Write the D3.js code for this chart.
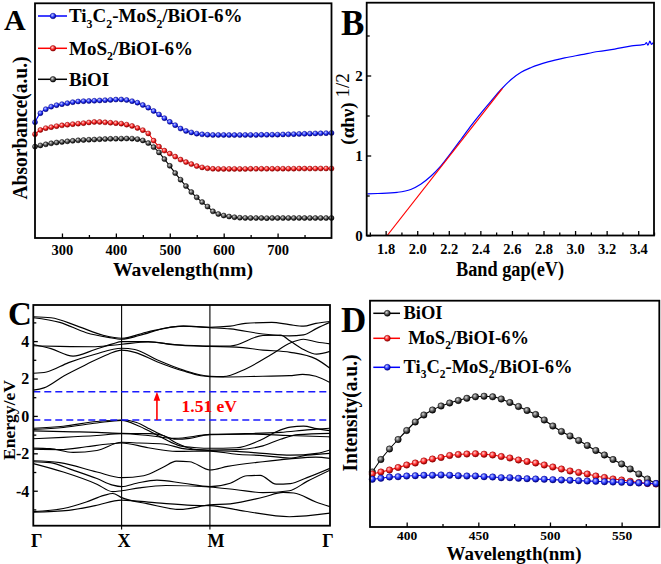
<!DOCTYPE html>
<html><head><meta charset="utf-8">
<script src="https://cdn.jsdelivr.net/npm/d3@7"></script>
<style>
body{margin:0;background:#fff;}
svg text{font-family:"Liberation Serif","Times New Roman",Times,serif;font-weight:bold;fill:#000;}
</style></head><body>
<svg id="fig" width="661" height="564" xmlns="http://www.w3.org/2000/svg"></svg>
<script>
// ================= DATA =================
// Panel A : UV-vis absorbance (a.u.), 250-800 nm every 10 nm
const wavelengthsA = d3.range(250, 801, 10);
const absTi3C2 = [1.16,1.25,1.29,1.315,1.33,1.34,1.35,1.36,1.367,1.37,1.372,1.374,1.377,1.38,1.383,1.386,1.387,1.382,1.37,1.355,1.332,1.305,1.272,1.237,1.20,1.163,1.13,1.096,1.072,1.057,1.045,1.038,1.034,1.032,
  1.032,1.032,1.031,1.031,1.031,1.032,1.032,1.032,1.033,1.033,
  1.034,1.035,1.037,1.038,1.04,1.042,1.043,1.045,1.047,1.048,1.05,1.052];
const absMoS2 = [1.04,1.082,1.10,1.11,1.12,1.128,1.134,1.14,1.145,1.15,1.157,1.162,1.162,1.158,1.154,1.15,1.145,1.135,1.122,1.102,1.08,1.047,0.975,0.915,0.875,0.845,0.815,0.785,0.76,0.74,0.72,0.707,0.698,0.693,
  0.692,0.692,0.692,0.692,0.692,0.692,0.693,0.693,0.693,0.693,
  0.693,0.694,0.694,0.694,0.694,0.695,0.695,0.695,0.695,0.696,0.696,0.696];
const absBiOI = [0.915,0.927,0.938,0.948,0.956,0.962,0.968,0.973,0.978,0.981,0.984,0.986,0.989,0.991,0.993,0.994,0.995,0.996,0.995,0.99,0.977,0.95,0.91,0.857,0.79,0.723,0.65,0.584,0.52,0.46,0.407,0.36,0.315,0.267,0.24,0.225,0.215,0.208,0.203,
  0.201,0.2,0.2,0.2,0.199,0.2,0.2,0.2,0.2,0.2,0.201,0.2,0.2,0.2,0.2,0.2,0.2];
const legendA = ["Ti3C2-MoS2/BiOI-6%", "MoS2/BiOI-6%", "BiOI"];
const ticksA = [300,400,500,600,700];
const minorTicksA = [350,450,550,650,750];

// Panel B : Tauc plot
const bandGapEV = [1.684,1.75,1.874,1.959,2.022,2.086,2.15,2.213,2.277,2.34,2.404,2.468,2.531,2.595,2.658,2.722,2.828,2.934,3.04,3.146,3.251,3.358,3.43,3.442,3.452,3.462,3.474,3.484,3.495];
const bandGapY  = [0.52,0.525,0.54,0.575,0.64,0.74,0.87,1.03,1.2,1.37,1.53,1.68,1.825,1.95,2.04,2.1,2.17,2.22,2.26,2.3,2.33,2.37,2.385,2.39,2.41,2.38,2.43,2.39,2.41];
const tangentEV = [1.81, 2.54];
const tangentY  = [0, 1.84];
const ticksBx = [1.8,2.0,2.2,2.4,2.6,2.8,3.0,3.2,3.4];
const minorTicksBx = [1.7,1.9,2.1,2.3,2.5,2.7,2.9,3.1,3.3,3.5];
const ticksBy = [0,1,2];
const minorTicksBy = [0.5,1.5,2.5];

// Panel C : band structure, [k, E(eV)] with Γ=0, X=1, M=2, Γ=3.36
const kPathPos = [0, 1, 2, 3.36];
const kPathLabels = ["Γ", "X", "M", "Γ"];
const conductionBands = [
 [[0,1.38],[0.12,1.5],[0.35,2.15],[0.6,2.75],[0.85,3.3],[1,3.52],[1.15,3.4],[1.4,2.9],[1.7,2.4],[1.9,2.15],[2,2.1],[2.15,2.08],[2.6,2.12],[2.9,2.15],[3.05,2.22],[3.2,2.12],[3.36,1.78]],
 [[0,2.28],[0.15,2.35],[0.4,2.85],[0.7,3.3],[1,3.62],[1.15,3.55],[1.4,3.0],[1.7,2.45],[2,2.12],[2.15,2.1],[2.4,2.5],[2.7,3.3],[2.91,3.9],[3.06,4.1],[3.21,3.95],[3.36,3.85]],
 [[0,3.75],[0.3,3.72],[0.7,3.7],[1,3.83],[1.3,3.95],[1.6,3.82],[2,3.74],[2.23,3.74],[2.6,4.3],[2.8,4.32],[2.91,4.0],[3.06,3.55],[3.21,3.3],[3.36,3.45]],
 [[0,3.82],[0.2,3.6],[0.45,3.2],[0.7,3.55],[0.9,3.85],[1,3.97],[1.3,3.97],[1.6,3.8],[2,3.72],[2.3,3.68],[2.6,3.52],[2.91,3.4],[3.2,3.05],[3.36,2.55]],
 [[0,5.25],[0.3,5.0],[0.6,4.45],[0.85,4.2],[1,4.1],[1.2,4.3],[1.5,4.7],[1.7,4.8],[2,4.72],[2.23,4.65],[2.6,4.38],[2.9,4.28],[3.06,4.33],[3.21,4.68],[3.36,5.0]],
 [[0,5.3],[0.2,5.25],[0.5,4.8],[0.8,4.3],[1,4.15],[1.3,4.5],[1.7,4.8],[2,4.74],[2.23,4.8],[2.4,4.95],[2.7,5.0],[2.9,4.88],[3.06,4.8],[3.2,4.95],[3.36,5.05]]
];
const valenceBands = [
 [[0,-0.66],[0.34,-0.55],[0.72,-0.3],[1,-0.22],[1.17,-0.35],[1.32,-0.7],[1.47,-1.05],[1.62,-1.25],[1.77,-1.2],[2,-0.99],[2.4,-0.95],[2.8,-0.88],[3.1,-0.75],[3.36,-0.66]],
 [[0,-0.72],[0.34,-0.62],[0.72,-0.38],[1,-0.24],[1.2,-0.55],[1.47,-1.2],[1.66,-1.6],[1.85,-1.7],[2,-1.73],[2.3,-1.7],[2.57,-1.3],[2.75,-0.85],[2.91,-0.6],[3.06,-0.55],[3.21,-0.68],[3.36,-0.79]],
 [[0,-0.8],[0.45,-0.85],[0.72,-0.88],[1,-0.93],[1.32,-0.95],[1.47,-1.05],[1.62,-1.45],[1.85,-1.8],[2,-1.82],[2.3,-1.8],[2.6,-1.6],[2.8,-1.25],[3.0,-1.0],[3.36,-0.93]],
 [[0,-1.22],[0.34,-1.15],[0.72,-1.05],[1,-0.95],[1.3,-1.05],[1.6,-1.2],[2,-1.0],[2.4,-0.97],[2.9,-1.05],[3.36,-1.12]],
 [[0,-1.72],[0.19,-1.75],[0.45,-1.95],[0.72,-1.85],[1,-1.41],[1.2,-1.45],[1.47,-1.5],[1.7,-1.75],[2,-1.85],[2.3,-1.9],[2.6,-2.0],[2.91,-2.1],[3.21,-2.0],[3.36,-1.82]],
 [[0,-1.78],[0.3,-1.8],[0.6,-1.65],[0.85,-1.5],[1,-1.45],[1.3,-1.7],[1.62,-1.9],[2,-1.88],[2.3,-2.05],[2.6,-2.12],[2.9,-2.25],[3.1,-2.1],[3.36,-2.0]],
 [[0,-2.4],[0.3,-2.5],[0.72,-3.0],[1,-3.3],[1.25,-3.2],[1.47,-2.75],[1.62,-2.42],[1.77,-2.45],[2,-2.89],[2.2,-2.7],[2.6,-2.45],[2.9,-2.3],[3.2,-2.2],[3.36,-2.27]],
 [[0,-2.45],[0.19,-2.5],[0.45,-2.9],[0.72,-3.35],[0.9,-3.7],[1,-3.78],[1.17,-3.6],[1.4,-3.43],[1.7,-3.6],[2,-3.78],[2.23,-3.6],[2.42,-3.2],[2.57,-3.18],[2.75,-3.65],[2.91,-3.62],[3.1,-3.3],[3.36,-2.8]],
 [[0,-2.55],[0.34,-3.0],[0.72,-3.65],[0.9,-4.05],[1,-4.0],[1.2,-3.85],[1.5,-3.72],[2,-3.8],[2.3,-3.95],[2.6,-4.1],[2.9,-4.0],[3.1,-3.5],[3.36,-2.9]],
 [[0,-5.12],[0.34,-4.95],[0.6,-4.6],[0.8,-4.25],[0.9,-4.15],[1,-4.37],[1.3,-4.7],[1.66,-5.0],[2,-4.76],[2.23,-4.7],[2.6,-4.35],[2.83,-4.09],[2.95,-4.12],[3.2,-4.6],[3.36,-4.85]],
 [[0,-5.15],[0.4,-5.05],[0.7,-4.8],[1,-4.5],[1.4,-4.65],[1.8,-4.78],[2,-4.8],[2.4,-5.1],[2.9,-5.39],[3.36,-5.2]]
];
const cbmE = 1.29, vbmE = -0.22, gapLabel = "1.51 eV", arrowK = 1.4;
const ticksCy = [-4,-2,0,2,4];
const minorTicksCy = [-5,-3,-1,1,3,5];

// Panel D : PL spectra, 376-574 nm every 6 nm
const wavelengthsD = d3.range(376, 575, 6);
const plBiOI  = [55,67.5,78,87.5,96.5,105,112,117,121,124,126.5,128.7,130.2,130.8,130.2,128,124.5,120.5,116.5,112.5,107,101,95.5,91,86.5,81.5,76.5,72,67.5,63,58,53,48,43.5];
const plMoS2  = [53,55,57,59.5,62,64,66,68,69.5,71.5,72.5,73,73.3,72.8,72,70.5,69,67,65.5,64,62,60,58,56,54.5,53,51,49.5,48,47,45.7,44.5,43.5,43];
const plTi3C2 = [47.7,48.7,50,50.3,51,51.3,51.7,51.7,52,51.7,51.3,51,51,50.3,50,49.3,49.3,48.7,48.3,48,47.7,47.3,47,46.7,46.3,46,45.7,45.3,45,44.7,44.3,44,43.7,43.5];
const legendD = ["BiOI", " MoS2/BiOI-6%", "Ti3C2-MoS2/BiOI-6%"];
const ticksD = [400,450,500,550];
const minorTicksD = [425,475,525];

const colors = {blue:"#0000ff", red:"#ff0000", black:"#000000"};

// ================= DRAWING =================
const svg = d3.select("#fig");
const defs = svg.append("defs");
function grad(id, light, mid, dark){
  const g = defs.append("radialGradient").attr("id",id).attr("cx","38%").attr("cy","35%").attr("r","65%");
  g.append("stop").attr("offset","0%").attr("stop-color",light);
  g.append("stop").attr("offset","55%").attr("stop-color",mid);
  g.append("stop").attr("offset","100%").attr("stop-color",dark);
}
grad("gblue","#c8ccff","#2a3cff","#00007a");
grad("gred","#ffd0d0","#ff2a2a","#8a0000");
grad("gblack","#d8d8d8","#555555","#000000");
const gradOf = {blue:"url(#gblue)", red:"url(#gred)", black:"url(#gblack)"};
const strokeOf = {blue:"#00008a", red:"#900000", black:"#000"};

function richText(g, x, y, str, fs){
  const t = g.append("text").attr("x",x).attr("y",y).attr("font-size",fs);
  const segs=[];
  for(let i=0;i<str.length;i++){
    const c=str[i];
    const sub=/\d/.test(c)&&i>0&&/[A-Za-z]/.test(str[i-1]);
    if(segs.length&&segs[segs.length-1].sub===sub) segs[segs.length-1].s+=c; else segs.push({s:c,sub});
  }
  let shifted=false;
  segs.forEach(sg=>{
    const ts=t.append("tspan").text(sg.s);
    if(sg.sub){ts.attr("font-size",fs*0.62).attr("dy",fs*0.3);shifted=true;}
    else if(shifted){ts.attr("dy",-fs*0.3);shifted=false;}
  });
  t.style("white-space","pre");
  return t;
}
function styleAxis(a, fs){
  a.select(".domain").remove();
  a.selectAll("line").attr("stroke","#000").attr("stroke-width",1.3);
  a.selectAll("text").attr("font-size",fs).attr("font-family",null).attr("fill","#000");
}
function bottomAxis(g, scale, y, major, minor, fmt, fs, off){
  g.append("g").attr("transform",`translate(0,${y})`)
   .call(d3.axisBottom(scale).tickValues(major).tickSize(-4.5).tickFormat(fmt))
   .call(a=>{styleAxis(a,fs); a.selectAll("text").attr("dy",null).attr("y",off);});
  if(minor) g.append("g").attr("transform",`translate(0,${y})`)
   .call(d3.axisBottom(scale).tickValues(minor).tickSize(-3).tickFormat(""))
   .call(a=>styleAxis(a,fs));
}
function leftAxis(g, scale, x, major, minor, fmt, fs, off){
  g.append("g").attr("transform",`translate(${x},0)`)
   .call(d3.axisLeft(scale).tickValues(major).tickSize(-4.5).tickFormat(fmt))
   .call(a=>{styleAxis(a,fs); a.selectAll("text").attr("x",-off).attr("dy","0.34em");});
  if(minor) g.append("g").attr("transform",`translate(${x},0)`)
   .call(d3.axisLeft(scale).tickValues(minor).tickSize(-3).tickFormat(""))
   .call(a=>styleAxis(a,fs));
}
function frame(g, x0, y0, x1, y1){
  g.append("rect").attr("x",x0).attr("y",y0).attr("width",x1-x0).attr("height",y1-y0)
   .attr("fill","none").attr("stroke","#000").attr("stroke-width",1.8);
}
function series(g, xs, ys, x, y, col, r){
  const pts = xs.map((d,i)=>[d,ys[i]]);
  g.append("path").datum(pts).attr("fill","none").attr("stroke",colors[col]).attr("stroke-width",1.1)
   .attr("d", d3.line().x(d=>x(d[0])).y(d=>y(d[1])).curve(d3.curveMonotoneX));
  g.selectAll(null).data(pts).enter().append("circle")
   .attr("cx",d=>x(d[0])).attr("cy",d=>y(d[1])).attr("r",r)
   .attr("fill",gradOf[col]).attr("stroke",strokeOf[col]).attr("stroke-width",0.5);
}
function legendItem(g, x0, x1, xm, y, col, r){
  g.append("line").attr("x1",x0).attr("x2",x1).attr("y1",y).attr("y2",y).attr("stroke",colors[col]).attr("stroke-width",1.5);
  g.append("circle").attr("cx",xm).attr("cy",y).attr("r",r).attr("fill",gradOf[col]).attr("stroke",strokeOf[col]).attr("stroke-width",0.5);
}
function yTitle(g, x, y, str, fs, len){
  const t = g.append("text").attr("transform",`translate(${x},${y}) rotate(-90)`).attr("text-anchor","middle").attr("font-size",fs).text(str);
  if(len) t.attr("textLength",len).attr("lengthAdjust","spacingAndGlyphs");
  return t;
}
function xTitle(g, x, y, str, fs, len){
  const t = g.append("text").attr("x",x).attr("y",y).attr("text-anchor","middle").attr("font-size",fs).text(str);
  if(len) t.attr("textLength",len).attr("lengthAdjust","spacingAndGlyphs");
  return t;
}

// ---------- Panel A ----------
{
  const g = svg.append("g");
  const x = d3.scaleLinear().domain([250,800]).range([35,331.5]);
  const y = d3.scaleLinear().domain([0,2.35]).range([238,3.3]);
  bottomAxis(g, x, 238, ticksA, minorTicksA, d3.format("d"), 14.5, 17);
  series(g, wavelengthsA, absBiOI, x, y, "black", 2.5);
  series(g, wavelengthsA, absMoS2, x, y, "red", 2.5);
  series(g, wavelengthsA, absTi3C2, x, y, "blue", 2.5);
  frame(g, 35, 3.3, 331.5, 238);
  const cols = ["blue","red","black"], ly = [16,48.3,79.3];
  legendA.forEach((s,i)=>{ legendItem(g, 38, 67, 53, ly[i], cols[i], 2.8); richText(g, 69, ly[i]+6.3, s, 19); });
  xTitle(g, 183, 276, "Wavelength(nm)", 19.5, 140);
  yTitle(g, 27, 128, "Absorbance(a.u.)", 20, 143);
  g.append("text").attr("x",4).attr("y",29.5).attr("font-size",30).text("A");
}

// ---------- Panel B ----------
{
  const g = svg.append("g");
  const x = d3.scaleLinear().domain([1.68,3.5]).range([366.7,654]);
  const y = d3.scaleLinear().domain([0,2.91]).range([235.5,2.7]);
  bottomAxis(g, x, 235.5, ticksBx, minorTicksBx, d3.format(".1f"), 14.5, 18);
  leftAxis(g, y, 366.7, ticksBy, minorTicksBy, d3.format("d"), 15, 4);
  const pts = bandGapEV.map((d,i)=>[d,bandGapY[i]]);
  g.append("path").datum(pts).attr("fill","none").attr("stroke","#0000ff").attr("stroke-width",1.2)
   .attr("d", d3.line().x(d=>x(d[0])).y(d=>y(d[1])).curve(d3.curveMonotoneX));
  g.append("path").datum(tangentEV.map((d,i)=>[d,tangentY[i]])).attr("fill","none").attr("stroke","#ff0000").attr("stroke-width",1.2)
   .attr("d", d3.line().x(d=>x(d[0])).y(d=>y(d[1])));
  frame(g, 366.7, 2.7, 654, 235.5);
  xTitle(g, 510, 276, "Band gap(eV)", 20.5, 108);
  const t = g.append("text").attr("transform","translate(354,109) rotate(-90)").attr("text-anchor","middle").attr("font-size",19);
  t.append("tspan").text("(αhν)");
  t.append("tspan").text(" 1/2").attr("dy",-5).attr("font-weight","normal");
  g.append("text").attr("x",341).attr("y",35).attr("font-size",35).text("B");
}

// ---------- Panel C ----------
{
  const g = svg.append("g");
  const x = d3.scaleLinear().domain([0,3.36]).range([33.3,330]);
  const y = d3.scaleLinear().domain([-5.87,5.93]).range([525.7,305]);
  leftAxis(g, y, 33.3, ticksCy, minorTicksCy, d=>d<0?"-"+Math.abs(d):d, 16, 4);
  const clip = defs.append("clipPath").attr("id","clipC");
  clip.append("rect").attr("x",33.3).attr("y",305).attr("width",296.7).attr("height",220.7);
  const lg = g.append("g").attr("clip-path","url(#clipC)");
  const line = d3.line().x(d=>x(d[0])).y(d=>y(d[1])).curve(d3.curveMonotoneX);
  conductionBands.concat(valenceBands).forEach(b=>{
    lg.append("path").datum(b).attr("fill","none").attr("stroke","#000").attr("stroke-width",1.15).attr("d",line);
  });
  kPathPos.slice(1,3).forEach(k=>{
    g.append("line").attr("x1",x(k)).attr("x2",x(k)).attr("y1",305).attr("y2",529.5).attr("stroke","#000").attr("stroke-width",1.1);
  });
  [cbmE, vbmE].forEach(e=>{
    g.append("line").attr("x1",x(0)).attr("x2",x(3.36)).attr("y1",y(e)).attr("y2",y(e))
     .attr("stroke","#1a1aff").attr("stroke-width",1.4).attr("stroke-dasharray","7,4");
  });
  const ax = x(arrowK);
  g.append("line").attr("x1",ax).attr("x2",ax).attr("y1",y(vbmE)).attr("y2",y(cbmE)+7).attr("stroke","#ff0000").attr("stroke-width",1.6);
  g.append("path").attr("d",`M${ax},${y(cbmE)} L${ax-3.3},${y(cbmE)+9} L${ax+3.3},${y(cbmE)+9} Z`).attr("fill","#ff0000");
  g.append("text").attr("x",181.5).attr("y",411.5).attr("font-size",17.5).style("fill","#ff0000").text(gapLabel);
  frame(g, 33.3, 305, 330, 525.7);
  const off = [3.5, 2.5, 6, -2];
  kPathLabels.forEach((s,i)=>{
    g.append("text").attr("x",x(kPathPos[i])+off[i]).attr("y",546.5).attr("text-anchor","middle").attr("font-size",18).text(s);
  });
  yTitle(g, 15, 420, "Energy/eV", 17, 80);
  g.append("text").attr("x",8).attr("y",325).attr("font-size",33).text("C");
}

// ---------- Panel D ----------
{
  const g = svg.append("g");
  const x = d3.scaleLinear().domain([374.4,576.3]).range([370,659.3]);
  const y = d3.scaleLinear().domain([0,226.3]).range([527,300.7]);
  bottomAxis(g, x, 527, ticksD, minorTicksD, d3.format("d"), 13.5, 13);
  series(g, wavelengthsD, plBiOI, x, y, "black", 3.2);
  series(g, wavelengthsD, plMoS2, x, y, "red", 3.2);
  series(g, wavelengthsD, plTi3C2, x, y, "blue", 3.2);
  frame(g, 370, 300.7, 659.3, 527);
  const cols = ["black","red","blue"], ly = [313.3,338.3,367.3];
  legendD.forEach((s,i)=>{ legendItem(g, 373.3, 400, 387.3, ly[i], cols[i], 3); richText(g, 403.5, ly[i]+5.6, s, 18.5); });
  xTitle(g, 514, 560, "Wavelength(nm)", 19.5, 135);
  yTitle(g, 357, 413, "Intensity(a.u.)", 20, 117);
  g.append("text").attr("x",341).attr("y",331.5).attr("font-size",35).text("D");
}
</script>
</body></html>
